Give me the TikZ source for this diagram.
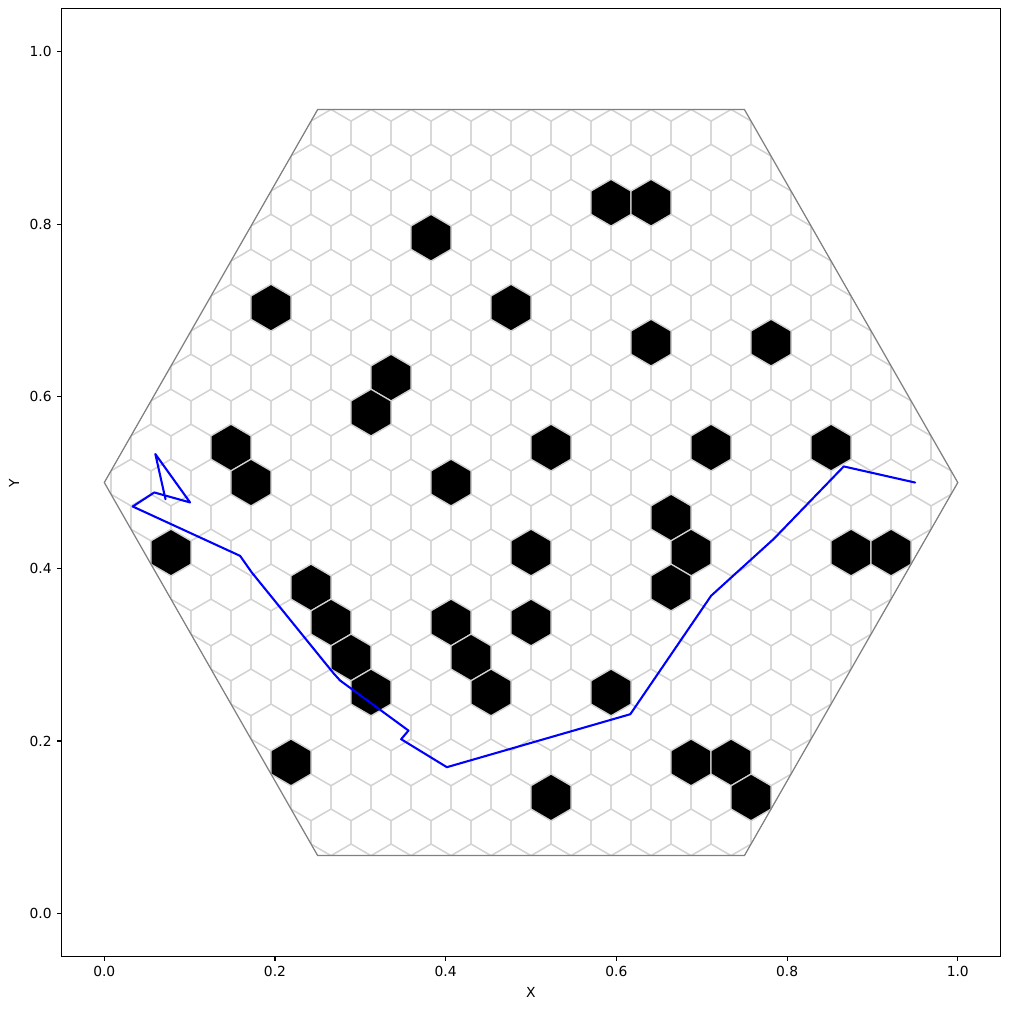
\documentclass[tikz,border=0pt]{standalone}
\usepackage{fontspec}
\setmainfont{DejaVu Sans}
\definecolor{lgray}{HTML}{D3D3D3}
\definecolor{mgray}{HTML}{808080}
\definecolor{pblue}{HTML}{0000FF}
\begin{document}
\begin{tikzpicture}[x=0.01in,y=0.01in,
  gridline/.style={draw=lgray,line width=0.9pt},
  blackhex/.style={fill=black,draw=lgray,line width=0.9pt},
  bighex/.style={draw=mgray,line width=0.9pt},
  pathline/.style={draw=pblue,line width=1.5pt,line join=round,line cap=round},
  axisline/.style={draw=black,line width=0.8pt},
  tickmark/.style={draw=black,line width=0.8pt},
  ticklabel/.style={inner sep=0pt,font=\fontsize{10}{12}\selectfont},
  axislabel/.style={inner sep=0pt,font=\fontsize{10}{12}\selectfont}]
\useasboundingbox[fill=white] (0,0) rectangle (1009,1009);
\def\hs{0.0270633}
\def\hx{0.0234375}
\def\hy{0.0135316}
\def\hw{0.046875}
\begin{scope}[shift={(104.3,95.7)}, x=8.53in, y=8.61in]
  % hexagonal grid clipped to the big hexagon
  \begin{scope}
    \clip (0,0.5) -- (0.25,0.9330127) -- (0.75,0.9330127) -- (1,0.5) -- (0.75,0.0669873) -- (0.25,0.0669873) -- cycle;
    \foreach \j in {-11,...,11}{
      \pgfmathsetmacro\off{0.5*mod(abs(\j),2)}
      \pgfmathsetmacro\cy{0.5+1.5*\hs*\j}
      \foreach \i in {-11,...,11}{
        \pgfmathsetmacro\cx{0.5+(\i+\off)*\hw}
        \draw[gridline,shift={(\cx,\cy)}] (\hx,\hy) -- (0,\hs) -- (-\hx,\hy) -- (-\hx,-\hy) -- (0,-\hs) -- (\hx,-\hy) -- cycle;
      }
    }
  \end{scope}
  % obstacles
  \foreach \a/\j in {2/8,3/8,-2.5/7,-6.5/5,-0.5/5,3/4,6/4,-3.5/3,-4/2,-7.5/1,0.5/1,4.5/1,7.5/1,-7/0,-2/0,3.5/-1,-9/-2,0/-2,4/-2,8/-2,9/-2,-5.5/-3,3.5/-3,-5/-4,-2/-4,0/-4,-4.5/-5,-1.5/-5,-4/-6,-1/-6,2/-6,-6/-8,4/-8,5/-8,0.5/-9,5.5/-9}{
    \pgfmathsetmacro\cx{0.5+\a*\hw}
    \pgfmathsetmacro\cy{0.5+1.5*\hs*\j}
    \filldraw[blackhex,shift={(\cx,\cy)}] (\hx,\hy) -- (0,\hs) -- (-\hx,\hy) -- (-\hx,-\hy) -- (0,-\hs) -- (\hx,-\hy) -- cycle;
  }
  % big hexagon
  \draw[bighex] (0,0.5) -- (0.25,0.9330127) -- (0.75,0.9330127) -- (1,0.5) -- (0.75,0.0669873) -- (0.25,0.0669873) -- cycle;
  % path
  \coordinate (p0) at (0.95,0.50);
  \coordinate (p1) at (0.8664,0.5187);
  \coordinate (p2) at (0.7845,0.4347);
  \coordinate (p3) at (0.7109,0.3685);
  \coordinate (p4) at (0.6163,0.2311);
  \coordinate (p5) at (0.4014,0.1696);
  \coordinate (p6) at (0.3478,0.2021);
  \coordinate (p7) at (0.3564,0.2121);
  \coordinate (p8) at (0.2763,0.2702);
  \coordinate (p9) at (0.2685,0.2787);
  \coordinate (p10) at (0.1728,0.3956);
  \coordinate (p11) at (0.1591,0.4149);
  \coordinate (p12) at (0.0333,0.4722);
  \coordinate (p13) at (0.0586,0.4885);
  \coordinate (p14) at (0.1005,0.4769);
  \coordinate (p15) at (0.0598,0.5331);
  \coordinate (p16) at (0.0717,0.4806);
  \draw[pathline] (p0) -- (p1) -- (p2) -- (p3) -- (p4) -- (p5) -- (p6) -- (p7) -- (p8) -- (p9) -- (p10) -- (p11) -- (p12) -- (p13) -- (p14) -- (p15) -- (p16);
  % axes frame
  \draw[axisline] (-0.05,-0.05) rectangle (1.05,1.05);
  \foreach \v [count=\k] in {0.0,0.2,0.4,0.6,0.8,1.0}{
    \draw[tickmark] (\v,-0.05) -- ++(0,-3.5pt);
    \node[ticklabel,anchor=north,yshift=-7pt] (xt\k) at (\v,-0.05) {\v};
    \draw[tickmark] (-0.05,\v) -- ++(-3.5pt,0);
    \node[ticklabel,anchor=east,xshift=-7pt] (yt\k) at (-0.05,\v) {\v};
  }
\end{scope}
\node[axislabel] (xlab) at (530.8,17) {X};
\node[axislabel,rotate=90] (ylab) at (14,526.2) {Y};
\end{tikzpicture}
\end{document}
